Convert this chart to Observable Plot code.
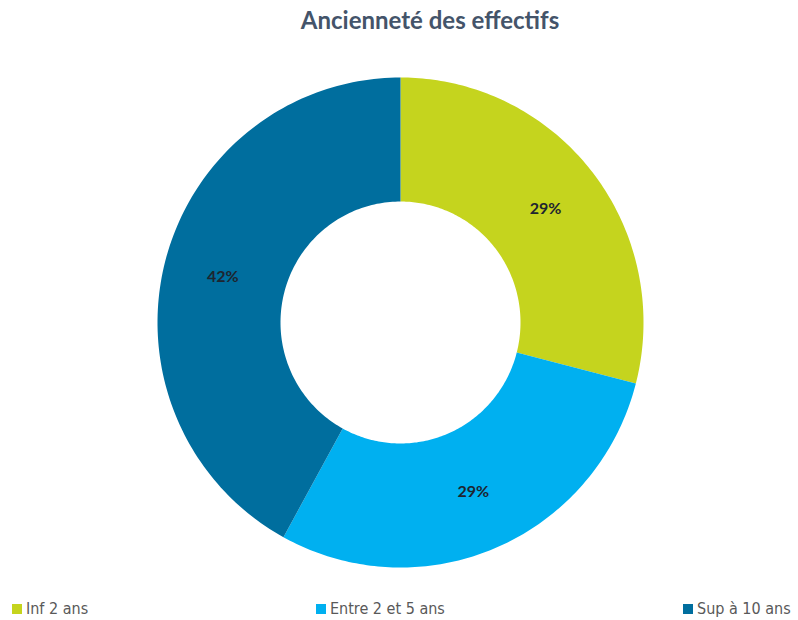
<!DOCTYPE html>
<html>
<head>
<meta charset="utf-8">
<script src="https://cdn.jsdelivr.net/npm/d3@7"></script>
<script src="https://cdn.jsdelivr.net/npm/@observablehq/plot@0.6"></script>
<style>
  html, body { margin: 0; padding: 0; background: #fff; }
  #wrap { position: relative; width: 798px; height: 620px; overflow: hidden; }
  #title { position: absolute; top: 5px; left: 61px; width: 738px; text-align: center;
    font-family: Lato, "Open Sans", sans-serif; font-weight: bold; font-size: 24px; color: #44546a; }
  #chart { position: absolute; top: 40px; left: 0; }
  .leg { position: absolute; top: 598px; font-family: "DejaVu Sans Condensed", "Liberation Sans Narrow", sans-serif;
    font-size: 16px; color: #595959; white-space: nowrap; line-height: 22px; }
  .sw { display: inline-block; width: 10px; height: 10px; margin-right: 4px; vertical-align: 0px; }
</style>
</head>
<body>
<div id="wrap">
  <div id="title"></div>
  <div id="chart"></div>
</div>
<script>
const title = "Ancienneté des effectifs";
const categories = ["Inf 2 ans", "Entre 2 et 5 ans", "Sup à 10 ans"];
const values = [29, 29, 42];
const labels = ["29%", "29%", "42%"];
const colors = ["#c5d41e", "#00b0f0", "#006e9e"];

document.getElementById("title").textContent = title;

const total = d3.sum(values);
const inner = 120 / 243;
const cum = d3.cumsum(values);
const slices = values.map((v, i) => ({
  cat: categories[i],
  a0: ((cum[i] - v) / total) * 2 * Math.PI,
  a1: (cum[i] / total) * 2 * Math.PI,
  label: labels[i]
}));

const pts = [];
for (const s of slices) {
  const n = 120;
  for (let k = 0; k <= n; k++) {
    const a = s.a0 + (s.a1 - s.a0) * k / n;
    pts.push({cat: s.cat, x: Math.sin(a), y: Math.cos(a)});
  }
  for (let k = n; k >= 0; k--) {
    const a = s.a0 + (s.a1 - s.a0) * k / n;
    pts.push({cat: s.cat, x: inner * Math.sin(a), y: inner * Math.cos(a)});
  }
}
const labelPts = slices.map(s => {
  const m = (s.a0 + s.a1) / 2, r = 0.755;
  return {label: s.label, x: r * Math.sin(m), y: r * Math.cos(m)};
});

const cx = 400, cy = 282, Rx = 243, Ry = 245;
const plot = Plot.plot({
  width: 798,
  height: 550,
  margin: 0,
  x: {domain: [-1, 1], range: [cx - Rx, cx + Rx], axis: null},
  y: {domain: [-1, 1], range: [cy + Ry, cy - Ry], axis: null},
  color: {domain: categories, range: colors},
  marks: [
    Plot.line(pts, {x: "x", y: "y", z: "cat", fill: "cat", stroke: null, curve: "linear"}),
    Plot.text(labelPts, {x: "x", y: "y", text: "label", fontSize: 16, fontWeight: "bold",
      fill: "#1e2530", fontFamily: "Lato, 'Open Sans', sans-serif"})
  ]
});
document.getElementById("chart").appendChild(plot);

const legX = [12, 316, 683];
const wrap = document.getElementById("wrap");
categories.forEach((c, i) => {
  const d = document.createElement("div");
  d.className = "leg";
  d.style.left = legX[i] + "px";
  d.innerHTML = `<span class="sw" style="background:${colors[i]}"></span>`;
  d.appendChild(document.createTextNode(c));
  wrap.appendChild(d);
});
</script>
</body>
</html>
